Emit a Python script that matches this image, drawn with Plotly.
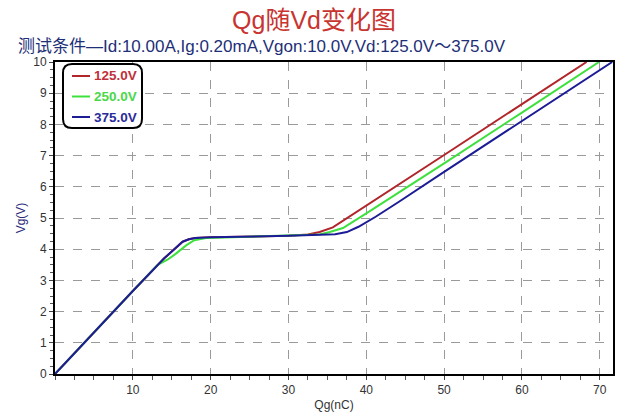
import plotly.graph_objects as go

# Gate charge curves: Vg versus Qg for three drain voltages
q_125 = [0, 5, 10, 14, 16.4, 17.2, 18, 20, 25, 30, 32.5, 34, 35.7, 38, 41.2, 50, 60, 68.3]
v_125 = [0, 1.34, 2.66, 3.7, 4.24, 4.32, 4.36, 4.38, 4.40, 4.43, 4.47, 4.55, 4.70, 5.07, 5.59, 7.02, 8.65, 10.0]

q_250 = [0, 5, 10, 13.2, 14.5, 15.5, 16.9, 17.9, 19.4, 25, 30, 34, 35.3, 37, 40, 50, 60, 69.9]
v_250 = [0, 1.34, 2.66, 3.5, 3.67, 3.85, 4.13, 4.29, 4.36, 4.40, 4.43, 4.47, 4.55, 4.68, 5.15, 6.75, 8.38, 10.0]

q_375 = [0, 5, 10, 14, 16.4, 17.2, 18, 20, 25, 30, 34, 36, 37.5, 39, 41.2, 44.2, 50, 60, 71.6]
v_375 = [0, 1.34, 2.66, 3.7, 4.24, 4.32, 4.36, 4.38, 4.40, 4.43, 4.46, 4.48, 4.55, 4.72, 5.04, 5.52, 6.48, 8.12, 10.0]

series_names = ["125.0V", "250.0V", "375.0V"]
line_colors = ["#b0262a", "#3ee03e", "#1c1c96"]
text_colors = ["#c0303a", "#4ad84a", "#2a2a9a"]

x_ticks = [10, 20, 30, 40, 50, 60, 70]
y_ticks = list(range(0, 11))

FONT = "Liberation Sans, Arial, Noto Sans CJK SC"
W, H = 622, 412
L, R, T, B = 55, 9, 62, 38
pw, ph = W - L - R, H - T - B


def px_x(p):
    return (p - L) / pw


def px_y(p):
    return (H - B - p) / ph


fig = go.Figure()
for q, v, name, lc in zip([q_125, q_250, q_375], [v_125, v_250, v_375],
                          series_names, line_colors):
    fig.add_trace(go.Scatter(
        x=q, y=v, mode="lines", line=dict(color=lc, width=2),
        name=name, showlegend=False,
    ))

# Legend box with rounded corners, keys and labels
x0, x1, y0, y1 = px_x(63), px_x(142), px_y(64), px_y(128)
rx, ry = 9 / pw, 9 / ph
legend_path = (
    f"M {x0+rx},{y0} L {x1-rx},{y0} Q {x1},{y0} {x1},{y0-ry} "
    f"L {x1},{y1+ry} Q {x1},{y1} {x1-rx},{y1} "
    f"L {x0+rx},{y1} Q {x0},{y1} {x0},{y1+ry} "
    f"L {x0},{y0-ry} Q {x0},{y0} {x0+rx},{y0} Z"
)
shapes = [dict(type="path", xref="paper", yref="paper", path=legend_path,
               line=dict(color="black", width=2), fillcolor="white", layer="above")]
annotations = []
for i, (name, lc, tc) in enumerate(zip(series_names, line_colors, text_colors)):
    yk = px_y(76 + i * 20.5)
    shapes.append(dict(type="line", xref="paper", yref="paper",
                       x0=px_x(72), x1=px_x(90), y0=yk, y1=yk,
                       line=dict(color=lc, width=2), layer="above"))
    annotations.append(dict(text=f"<b>{name}</b>", xref="paper", yref="paper",
                            x=px_x(92), y=yk, xanchor="left", yanchor="middle",
                            showarrow=False, font=dict(size=13.5, color=tc, family=FONT)))

annotations.append(dict(
    text="测试条件—Id:10.00A,Ig:0.20mA,Vgon:10.0V,Vd:125.0V～375.0V",
    xref="paper", yref="paper", x=px_x(16), y=px_y(47),
    xanchor="left", yanchor="middle", showarrow=False,
    font=dict(size=17, color="#1e2f78", family=FONT),
))

fig.update_layout(
    width=W, height=H,
    margin=dict(l=L, r=R, t=T, b=B),
    paper_bgcolor="white", plot_bgcolor="white",
    font=dict(family=FONT, size=12, color="#333333"),
    title=dict(
        text="Qg随Vd变化图",
        x=314 / W, xref="container", xanchor="center",
        y=1 - 20 / H, yref="container", yanchor="middle",
        font=dict(size=25, color="#c8342f", family=FONT),
    ),
    showlegend=False,
    shapes=shapes,
    annotations=annotations,
)

fig.update_xaxes(
    range=[0, 71.7], tickvals=x_ticks, showgrid=True, automargin=False,
    gridcolor="#9a9a9a", griddash="dash", gridwidth=1,
    showline=True, linecolor="black", linewidth=2, mirror=True,
    ticks="outside", ticklen=4, tickcolor="#444444", zeroline=False,
    minor=dict(dtick=2.5, ticks="outside", ticklen=4, tickcolor="#555555", showgrid=False),
    title=dict(text="Qg(nC)", font=dict(size=12, color="#333333"), standoff=4),
    tickfont=dict(size=12, color="#333333"),
)
fig.update_yaxes(
    range=[0, 10], tickvals=y_ticks, showgrid=True, automargin=False,
    gridcolor="#9a9a9a", griddash="dash", gridwidth=1,
    showline=True, linecolor="black", linewidth=2, mirror=True,
    ticks="outside", ticklen=4, tickcolor="#444444", zeroline=False,
    minor=dict(dtick=0.25, ticks="outside", ticklen=3, tickcolor="#555555", showgrid=False),
    title=dict(text="Vg(V)", font=dict(size=12, color="#2a2a7a"), standoff=5),
    tickfont=dict(size=12, color="#333333"),
)

fig.write_html("out.html")
